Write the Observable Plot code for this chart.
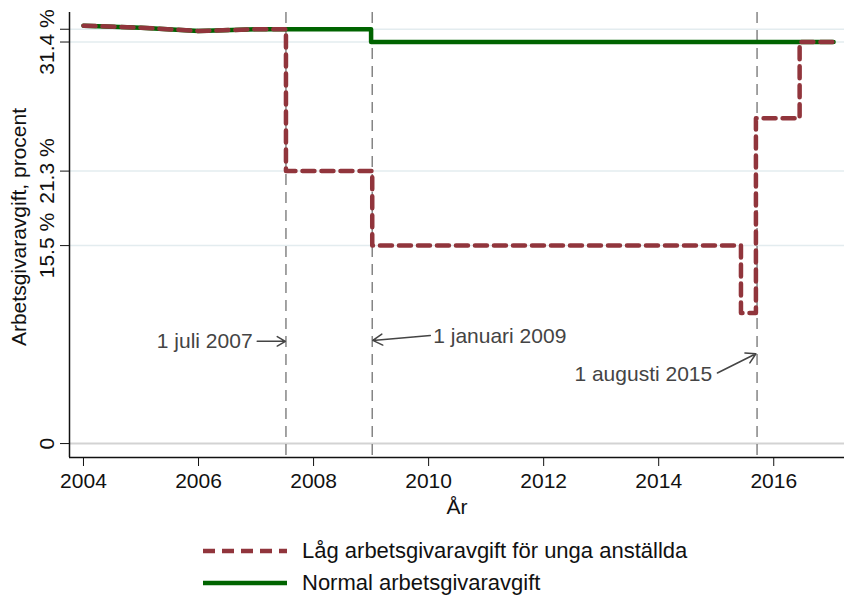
<!DOCTYPE html>
<html><head><meta charset="utf-8">
<script src="https://cdn.jsdelivr.net/npm/d3@7"></script>
<script src="https://cdn.jsdelivr.net/npm/@observablehq/plot@0.6"></script>
<style>
body{margin:0;background:#fff;font-family:"Liberation Sans",Arial,Helvetica,sans-serif;}
#wrap{position:relative;width:844px;height:595px;overflow:hidden;background:#fff}
#legend{position:absolute;left:203px;top:535px;font-size:22px;color:#111}
.row{display:flex;align-items:center;height:32px;white-space:nowrap}
.row svg{margin-right:15px;flex:none}
</style></head><body><div id="wrap"><div id="chart"></div><div id="legend"></div></div>
<script>
// --- data ---
const normalX = [2004, 2005, 2006, 2007, 2009, 2009, 2017.04];
const normalY = [32.70, 32.54, 32.28, 32.42, 32.42, 31.42, 31.42];
const lowX = [2004, 2005, 2006, 2007, 2007.52, 2007.52, 2009.02, 2009.02, 2015.43, 2015.43, 2015.69, 2015.69, 2016.45, 2016.45, 2017.04];
const lowY = [32.70, 32.54, 32.28, 32.42, 32.42, 21.32, 21.32, 15.49, 15.49, 10.21, 10.21, 25.46, 25.46, 31.42, 31.42];
const refDates = [2007.52, 2009.02, 2015.71];
const xTicks = [2004, 2006, 2008, 2010, 2012, 2014, 2016];
const yTicks = [0, 15.49, 21.32, 31.42, 32.42];
const yTickLabels = ["0", "15.5 %", "21.3 %", "31.4 %", ""];
const annLabels = ["1 juli 2007", "1 januari 2009", "1 augusti 2015"];
const annAnchor = ["end", "start", "end"];
const annFromX = [2007.02, 2010.03, 2015.02];
const annFromY = [8.0, 8.46, 5.52];
const annToX = [2007.51, 2009.03, 2015.69];
const annToY = [8.0, 8.07, 7.03];
const annTextX = [2006.94, 2010.08, 2014.93];
const annTextY = [8.0, 8.42, 5.4];
const seriesNames = ["Låg arbetsgivaravgift för unga anställda", "Normal arbetsgivaravgift"];

const xDomain = [2003.757, 2017.23];
const yDomain = [-1.09, 33.73];
const FONT = '"Liberation Sans", Arial, Helvetica, sans-serif';
const GREEN = "#006400";
const RED = "#91353c";

const normal = normalX.map((x, i) => ({x, y: normalY[i]}));
const low = lowX.map((x, i) => ({x, y: lowY[i]}));
const yLab = yTicks.map((v, i) => ({v, label: yTickLabels[i]}));
const ann = annLabels.map((label, i) => ({label, anchor: annAnchor[i], x1: annFromX[i], y1: annFromY[i], x2: annToX[i], y2: annToY[i], tx: annTextX[i], ty: annTextY[i]}));

const chart = Plot.plot({
  width: 844, height: 525,
  marginLeft: 69, marginRight: 0, marginTop: 12, marginBottom: 68,
  style: {fontFamily: FONT, fontSize: "21px", color: "#111", background: "#fff"},
  x: {domain: xDomain},
  y: {domain: yDomain},
  marks: [
    Plot.gridY(yTicks.filter(d => d !== 0), {stroke: "#e3ecef", strokeOpacity: 1, strokeWidth: 1.5}),
    Plot.gridY([0], {stroke: "#d3d3d3", strokeOpacity: 1, strokeWidth: 2}),
    Plot.ruleX(refDates, {stroke: "#858585", strokeWidth: 1.5, strokeDasharray: "11,7"}),
    Plot.line(normal, {x: "x", y: "y", stroke: GREEN, strokeWidth: 4.5}),
    Plot.line(low, {x: "x", y: "y", stroke: RED, strokeWidth: 4.5, strokeDasharray: "12,7"}),
    Plot.arrow(ann, {x1: "x1", y1: "y1", x2: "x2", y2: "y2", stroke: "#444", strokeWidth: 1.5, headLength: 11}),
    Plot.text(ann.filter(d => d.anchor === "end"), {x: "tx", y: "ty", text: "label", textAnchor: "end", fill: "#444", fontSize: 21}),
    Plot.text(ann.filter(d => d.anchor === "start"), {x: "tx", y: "ty", text: "label", textAnchor: "start", fill: "#444", fontSize: 21}),
    Plot.axisX({ticks: xTicks, tickSize: 9, tickFormat: () => "", label: null}),
    Plot.text(xTicks, {x: d => d, frameAnchor: "bottom", text: d => String(d), lineAnchor: "top", textAnchor: "middle", dy: 16, fontSize: 21, fill: "#111"}),
    Plot.axisY({ticks: yTicks, tickSize: 9, tickFormat: () => "", label: null}),
    Plot.text(yLab, {frameAnchor: "left", y: "v", text: "label", rotate: -90, lineAnchor: "bottom", textAnchor: "middle", dx: -15.5, fontSize: 21, fill: "#111"}),
    Plot.ruleX([xDomain[0]], {stroke: "#111", strokeWidth: 1.5}),
    Plot.ruleY([yDomain[0]], {stroke: "#111", strokeWidth: 1.5}),
    Plot.text(["År"], {frameAnchor: "bottom", text: d => d, lineAnchor: "bottom", textAnchor: "middle", dy: 56, fontSize: 21, fill: "#111"}),
    Plot.text(["Arbetsgivaravgift, procent"], {frameAnchor: "left", text: d => d, rotate: -90, lineAnchor: "bottom", textAnchor: "middle", dx: -44, dy: -8, fontSize: 21, fill: "#111"})
  ]
});
document.getElementById("chart").appendChild(chart);

const legend = document.getElementById("legend");
const styles = [{stroke: RED, dash: "12,7"}, {stroke: GREEN, dash: null}];
seriesNames.forEach((name, i) => {
  const row = document.createElement("div");
  row.className = "row";
  const s = d3.create("svg").attr("width", 84).attr("height", 10);
  s.append("line").attr("x1", 0).attr("x2", 84).attr("y1", 5).attr("y2", 5)
    .attr("stroke", styles[i].stroke).attr("stroke-width", 4.5)
    .attr("stroke-dasharray", styles[i].dash);
  row.appendChild(s.node());
  const t = document.createElement("span");
  t.textContent = name;
  row.appendChild(t);
  legend.appendChild(row);
});
</script></body></html>
